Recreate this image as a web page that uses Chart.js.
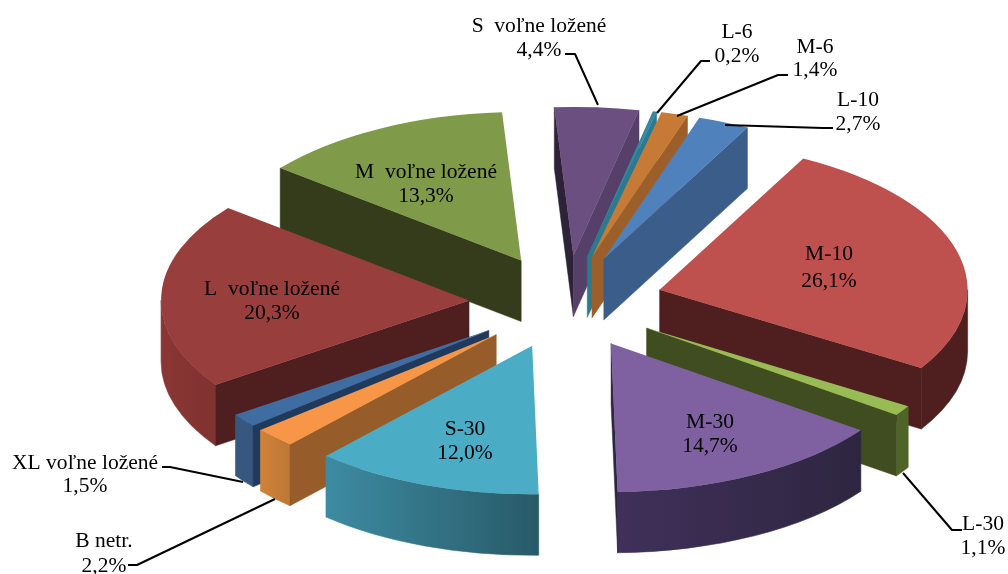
<!DOCTYPE html>
<html>
<head>
<meta charset="utf-8">
<style>html,body{margin:0;padding:0;background:#fff}canvas{display:block}</style>
<script src="https://cdn.jsdelivr.net/npm/chart.js@4"></script>
</head>
<body>
<canvas id="c" width="1008" height="574"></canvas>
<script>
const categories = ['L-6','M-6','L-10','M-10','L-30','M-30','S-30','B netr.','XL voľne ložené','L  voľne ložené','M  voľne ložené','S  voľne ložené'];
const shares = [0.2,1.4,2.7,26.1,1.1,14.7,12.0,2.2,1.5,20.3,13.3,4.4];

const topColors = ['#31899f','#c77a35','#4f81bd','#be504d','#98bb54','#7f60a0','#4bacc6','#f79646','#3f6ca1','#983f3d','#7f9a48','#6a4f80'];
const startWall = ['#256a7c','#9c5f2a','#3a5d8a','#4f1f1f','#3f4d21','#2e2640','#285a68','#965c29','#203a5e','#4f1f1f','#353c1c','#2d2339'];
const endWall   = ['#2b7a8f','#9c5f2a','#3a5d8a','#4f1f1f','#3f4d21','#2e2640','#285a68','#965c29','#203a5e','#4f1f1f','#353c1c','#563f69'];
const outerFrom = ['#2b7a8f','#9c5f2a','#3a5d8a','#4f1f1f','#4f6428','#40305a','#3d8ba2','#d08238','#37577f','#8a3634','#353c1c','#563f69'];
const outerTo   = ['#2b7a8f','#9c5f2a','#3a5d8a','#4f1f1f','#4f6428','#2e2640','#285a68','#be7736','#37577f','#7f3230','#353c1c','#563f69'];

const labelPlaces = {
  'L-6':[737,32,56],'M-6':[815,47,70],'L-10':[858,100,124],'M-10':[829,254,281],
  'L-30':[983,524,548],'M-30':[710,422,446],'S-30':[465,429,453],'B netr.':[104,541,566],
  'XL voľne ložené':[85,463,486],'L  voľne ložené':[272,289,313],'M  voľne ložené':[426,172,196],'S  voľne ložené':[539,26,50]
};
const leaderLines = [
  [[565,54],[575,54],[598,105]],
  [[710,61],[701,61],[657,113]],
  [[788,75],[778,75],[677,116]],
  [[833,128],[823,128],[725,125]],
  [[962,530],[952,530],[903,473]],
  [[162,467],[170,467],[243,482]],
  [[128,565],[137,565],[275,499]]
];

const view = {cx:566, cy:302, squash:0.482, explode:97, depth:61, radius:308, rotation:12.3};

function overlap(a0,a1,b0,b1){ const s=Math.max(a0,b0), e=Math.min(a1,b1); return e>s?[s,e]:null; }

const pie3d = {
  id:'pie3d',
  beforeDatasetsDraw(chart){
    const ctx = chart.ctx, k = view.squash, D = view.depth;
    const arcs = chart.getDatasetMeta(0).data.map((arc,i)=>{
      const p = arc.getProps(['x','y','startAngle','endAngle','outerRadius'],true);
      const mid = (p.startAngle+p.endAngle)/2;
      const ox = Math.cos(mid)*view.explode, oy = Math.sin(mid)*view.explode;
      return {arc,i,p,ox,oy,sx:view.cx+ox,sy:view.cy+oy*k};
    }).sort((a,b)=>a.sy-b.sy);

    for(const s of arcs){
      const {p,i,sx,sy} = s, R = p.outerRadius, Ry = R*k;
      const pt = a=>[sx+Math.cos(a)*R, sy+Math.sin(a)*Ry];
      const wall = (a,col)=>{
        const e = pt(a);
        ctx.fillStyle = col; ctx.strokeStyle = col; ctx.lineWidth = 0.5;
        ctx.beginPath(); ctx.moveTo(sx,sy); ctx.lineTo(e[0],e[1]); ctx.lineTo(e[0],e[1]+D); ctx.lineTo(sx,sy+D); ctx.closePath();
        ctx.fill(); ctx.stroke();
      };
      // outer rim, front half only
      for(const shift of [-2,0,2]){
        const r = overlap(p.startAngle,p.endAngle,shift*Math.PI,(shift+1)*Math.PI);
        if(!r) continue;
        const a = pt(r[0]), b = pt(r[1]);
        const g = ctx.createLinearGradient(Math.min(a[0],b[0]),0,Math.max(a[0],b[0]),0);
        g.addColorStop(0,outerFrom[i]); g.addColorStop(1,outerTo[i]);
        ctx.fillStyle = g; ctx.strokeStyle = g; ctx.lineWidth = 0.6;
        ctx.beginPath();
        ctx.ellipse(sx,sy,R,Ry,0,r[0],r[1],false);
        ctx.ellipse(sx,sy+D,R,Ry,0,r[1],r[0],true);
        ctx.closePath(); ctx.fill(); ctx.stroke();
      }
      // start edge faces the viewer when its counter-clockwise normal points down
      if(Math.sin(p.startAngle-Math.PI/2)>0) wall(p.startAngle,startWall[i]);
      if(Math.sin(p.endAngle+Math.PI/2)>0) wall(p.endAngle,endWall[i]);
      // top face: the library's own arc, laid flat
      ctx.save();
      ctx.translate(sx,sy); ctx.scale(1,k); ctx.translate(-p.x,-p.y);
      s.arc.draw(ctx);
      ctx.restore();
    }
    return false;
  },
  afterDraw(chart){
    const ctx = chart.ctx;
    ctx.save();
    ctx.strokeStyle='#000'; ctx.lineWidth=2; ctx.lineJoin='round';
    for(const l of leaderLines){
      ctx.beginPath(); l.forEach((q,j)=>j?ctx.lineTo(q[0],q[1]):ctx.moveTo(q[0],q[1])); ctx.stroke();
    }
    ctx.font='21.5px "Liberation Serif"'; ctx.fillStyle='#000'; ctx.textAlign='center'; ctx.textBaseline='middle';
    categories.forEach((c,i)=>{
      const [x,y1,y2] = labelPlaces[c];
      ctx.fillText(c,x,y1);
      ctx.fillText(shares[i].toFixed(1).replace('.',',')+'%',x,y2);
    });
    ctx.restore();
  }
};

new Chart(document.getElementById('c'),{
  type:'pie',
  data:{labels:categories,datasets:[{data:shares,backgroundColor:topColors,borderWidth:0}]},
  options:{
    responsive:false,animation:false,rotation:view.rotation,radius:view.radius,
    plugins:{legend:{display:false},tooltip:{enabled:false},title:{display:false}}
  },
  plugins:[pie3d]
});
</script>
</body>
</html>
